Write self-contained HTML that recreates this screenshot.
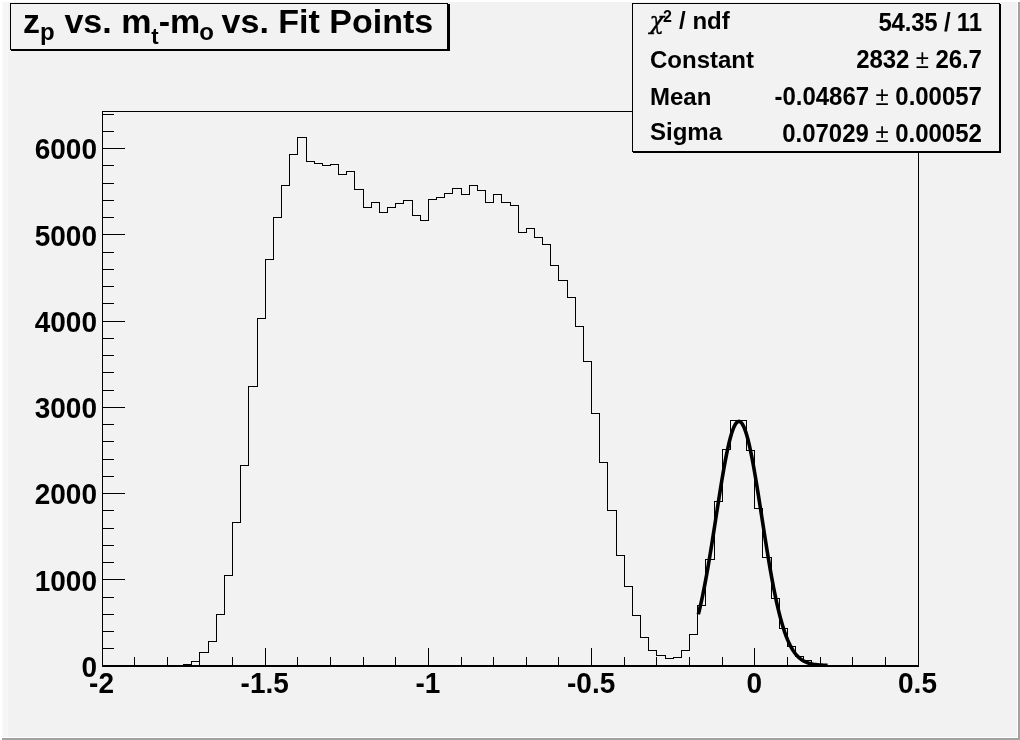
<!DOCTYPE html>
<html><head><meta charset="utf-8"><title>zp vs. mt-mo vs. Fit Points</title>
<style>
html,body{margin:0;padding:0;background:#f2f2f2;}
body{width:1020px;height:740px;overflow:hidden;position:relative;font-family:"Liberation Sans",sans-serif;}
svg{position:absolute;left:0;top:0;display:block}
text{font-family:"Liberation Sans",sans-serif;font-weight:bold;fill:#000}
.ax text{font-size:28px}
.st text{font-size:24px}
.pm{font-weight:normal}
.sym{font-family:"DejaVu Serif","Liberation Serif",serif;font-weight:normal;font-style:italic}
</style></head><body>
<svg width="1020" height="740" viewBox="0 0 1020 740">
<rect x="0" y="0" width="1020" height="740" fill="#f2f2f2"/>
<!-- canvas bevel -->
<g shape-rendering="crispEdges">
<rect x="0" y="0" width="1020" height="2" fill="#ffffff"/>
<rect x="0" y="0" width="2" height="740" fill="#ffffff"/>
<rect x="2" y="2" width="1" height="736" fill="#fafafa"/>
<rect x="3" y="2" width="5" height="736" fill="#f6f6f6"/>
<rect x="0" y="737" width="1020" height="1" fill="#ffffff"/>
<rect x="1017" y="2" width="1" height="736" fill="#ffffff"/>
<rect x="2" y="738" width="1018" height="2" fill="#a2a2a2"/>
<rect x="1018" y="2" width="2" height="738" fill="#a2a2a2"/>
</g>
<!-- frame -->
<g shape-rendering="crispEdges" fill="none" stroke="#000" stroke-width="1">
<path d="M102.5,666V111.5H918.5V666"/>
<path d="M102,666H919" stroke-width="2"/>
<path d="M102.5,665V648M134.5,665V657M167.5,665V657M199.5,665V657M232.5,665V657M265.5,665V648M297.5,665V657M330.5,665V657M363.5,665V657M395.5,665V657M428.5,665V648M461.5,665V657M493.5,665V657M526.5,665V657M558.5,665V657M591.5,665V648M624.5,665V657M656.5,665V657M689.5,665V657M722.5,665V657M754.5,665V648M787.5,665V657M820.5,665V657M852.5,665V657M885.5,665V657M918.5,665V648"/>
<path d="M102,666.5H125M102,648.5H114M102,631.5H114M102,614.5H114M102,597.5H114M102,579.5H125M102,562.5H114M102,545.5H114M102,528.5H114M102,510.5H114M102,493.5H125M102,476.5H114M102,459.5H114M102,441.5H114M102,424.5H114M102,407.5H125M102,390.5H114M102,372.5H114M102,355.5H114M102,338.5H114M102,321.5H125M102,303.5H114M102,286.5H114M102,269.5H114M102,252.5H114M102,234.5H125M102,217.5H114M102,200.5H114M102,183.5H114M102,165.5H114M102,148.5H125M102,131.5H114M102,114.5H114"/>
<path d="M167.5,665.5H175.5V665.5H183.5V664.5H191.5V661.5H199.5V652.5H208.5V641.5H216.5V614.5H224.5V575.5H232.5V522.5H240.5V465.5H248.5V386.5H257.5V318.5H265.5V259.5H273.5V217.5H281.5V185.5H289.5V154.5H297.5V137.5H306.5V161.5H314.5V163.5H322.5V165.5H330.5V164.5H338.5V174.5H346.5V171.5H354.5V189.5H363.5V207.5H371.5V202.5H379.5V212.5H387.5V207.5H395.5V203.5H403.5V200.5H412.5V215.5H420.5V220.5H428.5V199.5H436.5V197.5H444.5V193.5H452.5V188.5H461.5V194.5H469.5V185.5H477.5V190.5H485.5V202.5H493.5V194.5H501.5V202.5H510.5V205.5H518.5V232.5H526.5V228.5H534.5V237.5H542.5V244.5H550.5V265.5H558.5V280.5H567.5V297.5H575.5V326.5H583.5V361.5H591.5V413.5H599.5V462.5H607.5V510.5H616.5V555.5H624.5V586.5H632.5V615.5H640.5V637.5H648.5V650.5H656.5V655.5H665.5V658.5H673.5V657.5H681.5V650.5H689.5V634.5H697.5V605.5H705.5V559.5H714.5V501.5H722.5V449.5H730.5V420.5H738.5V420.5H746.5V450.5H754.5V508.5H762.5V557.5H771.5V598.5H779.5V628.5H787.5V646.5H795.5V656.5H803.5V660.5H811.5V664.5H820.5V665.5H828.5V665.5H836.5"/>
</g>
<clipPath id="fr"><rect x="102" y="111" width="817" height="556"/></clipPath>
<path clip-path="url(#fr)" d="M698.33,614.41 L699.41,610.05 L700.49,605.45 L701.56,600.61 L702.64,595.53 L703.72,590.22 L704.80,584.69 L705.87,578.94 L706.95,572.99 L708.03,566.84 L709.10,560.52 L710.18,554.04 L711.26,547.42 L712.34,540.68 L713.41,533.85 L714.49,526.95 L715.57,520.01 L716.64,513.06 L717.72,506.13 L718.80,499.25 L719.88,492.45 L720.95,485.78 L722.03,479.25 L723.11,472.92 L724.18,466.81 L725.26,460.95 L726.34,455.39 L727.42,450.15 L728.49,445.26 L729.57,440.76 L730.65,436.68 L731.72,433.03 L732.80,429.84 L733.88,427.14 L734.95,424.93 L736.03,423.24 L737.11,422.08 L738.19,421.45 L739.26,421.35 L740.34,421.80 L741.42,422.77 L742.49,424.28 L743.57,426.31 L744.65,428.84 L745.73,431.85 L746.80,435.34 L747.88,439.28 L748.96,443.63 L750.03,448.39 L751.11,453.51 L752.19,458.96 L753.27,464.72 L754.34,470.74 L755.42,477.00 L756.50,483.46 L757.57,490.09 L758.65,496.85 L759.73,503.70 L760.81,510.62 L761.88,517.57 L762.96,524.52 L764.04,531.43 L765.11,538.29 L766.19,545.07 L767.27,551.73 L768.35,558.26 L769.42,564.64 L770.50,570.85 L771.58,576.87 L772.65,582.69 L773.73,588.30 L774.81,593.69 L775.89,598.85 L776.96,603.77 L778.04,608.46 L779.12,612.91 L780.19,617.11 L781.27,621.08 L782.35,624.81 L783.43,628.32 L784.50,631.59 L785.58,634.64 L786.66,637.49 L787.73,640.12 L788.81,642.56 L789.89,644.81 L790.97,646.88 L792.04,648.78 L793.12,650.52 L794.20,652.11 L795.27,653.55 L796.35,654.86 L797.43,656.05 L798.50,657.13 L799.58,658.10 L800.66,658.97 L801.74,659.75 L802.81,660.45 L803.89,661.07 L804.97,661.63 L806.04,662.12 L807.12,662.56 L808.20,662.95 L809.28,663.29 L810.35,663.58 L811.43,663.85 L812.51,664.08 L813.58,664.28 L814.66,664.45 L815.74,664.60 L816.82,664.73 L817.89,664.85 L818.97,664.95 L820.05,665.03 L821.12,665.10 L822.20,665.16 L823.28,665.22 L824.36,665.26 L825.43,665.30 L826.51,665.33 L827.59,665.36" fill="none" stroke="#000" stroke-width="3.6" stroke-linejoin="round"/>
<g class="ax"><text transform="translate(101.5,693) scale(1,1.045)" text-anchor="middle">-2</text><text transform="translate(264.7,693) scale(1,1.045)" text-anchor="middle">-1.5</text><text transform="translate(427.9,693) scale(1,1.045)" text-anchor="middle">-1</text><text transform="translate(591.1,693) scale(1,1.045)" text-anchor="middle">-0.5</text><text transform="translate(754.3,693) scale(1,1.045)" text-anchor="middle">0</text><text transform="translate(917.5,693) scale(1,1.045)" text-anchor="middle">0.5</text><text transform="translate(97,676.7) scale(1,1.045)" text-anchor="end">0</text><text transform="translate(97,590.5) scale(1,1.045)" text-anchor="end">1000</text><text transform="translate(97,504.3) scale(1,1.045)" text-anchor="end">2000</text><text transform="translate(97,418.0) scale(1,1.045)" text-anchor="end">3000</text><text transform="translate(97,331.8) scale(1,1.045)" text-anchor="end">4000</text><text transform="translate(97,245.6) scale(1,1.045)" text-anchor="end">5000</text><text transform="translate(97,159.4) scale(1,1.045)" text-anchor="end">6000</text></g>
<!-- title box -->
<g shape-rendering="crispEdges">
<rect x="10.5" y="3.5" width="437" height="46" fill="#f2f2f2" stroke="#000" stroke-width="1"/>
<path d="M11,50H449M448.5,4V51" stroke="#000" stroke-width="2" fill="none"/>
</g>
<text x="23" y="33" font-size="34">z<tspan font-size="24" dy="6.5">p</tspan><tspan dy="-6.5" dx="0.3"> vs. m</tspan><tspan font-size="22" dy="11">t</tspan><tspan dy="-11">-m</tspan><tspan font-size="24" dy="6.5" dx="-1">o</tspan><tspan dy="-6.5" dx="-1.8"> vs. Fit Points</tspan></text>
<!-- stats box -->
<g shape-rendering="crispEdges">
<rect x="632.5" y="3.5" width="367" height="148" fill="#f2f2f2" stroke="#000" stroke-width="1"/>
<path d="M633,152H1001M1000,4V153" stroke="#000" stroke-width="2" fill="none"/>
</g>
<g class="st">
<text x="649.5" y="28.6"><tspan class="sym" font-size="24" stroke="#000" stroke-width="0.35">χ</tspan><tspan font-size="16" dy="-6.3" dx="-1">2</tspan><tspan dy="6.3" dx="0.5"> / ndf</tspan></text>
<text transform="translate(981.8,31) scale(1,1.045)" text-anchor="end" letter-spacing="-0.2">54.35 / 11</text>
<text x="650" y="68">Constant</text>
<text transform="translate(981.8,68) scale(1,1.045)" text-anchor="end" letter-spacing="-0.1">2832 <tspan class="pm">±</tspan> 26.7</text>
<text x="650" y="105">Mean</text>
<text transform="translate(981.8,105) scale(1,1.045)" text-anchor="end" letter-spacing="-0.04">-0.04867 <tspan class="pm">±</tspan> 0.00057</text>
<text x="650" y="139.6">Sigma</text>
<text transform="translate(981.8,142) scale(1,1.045)" text-anchor="end" letter-spacing="-0.02">0.07029 <tspan class="pm">±</tspan> 0.00052</text>
</g>
</svg>
</body></html>
